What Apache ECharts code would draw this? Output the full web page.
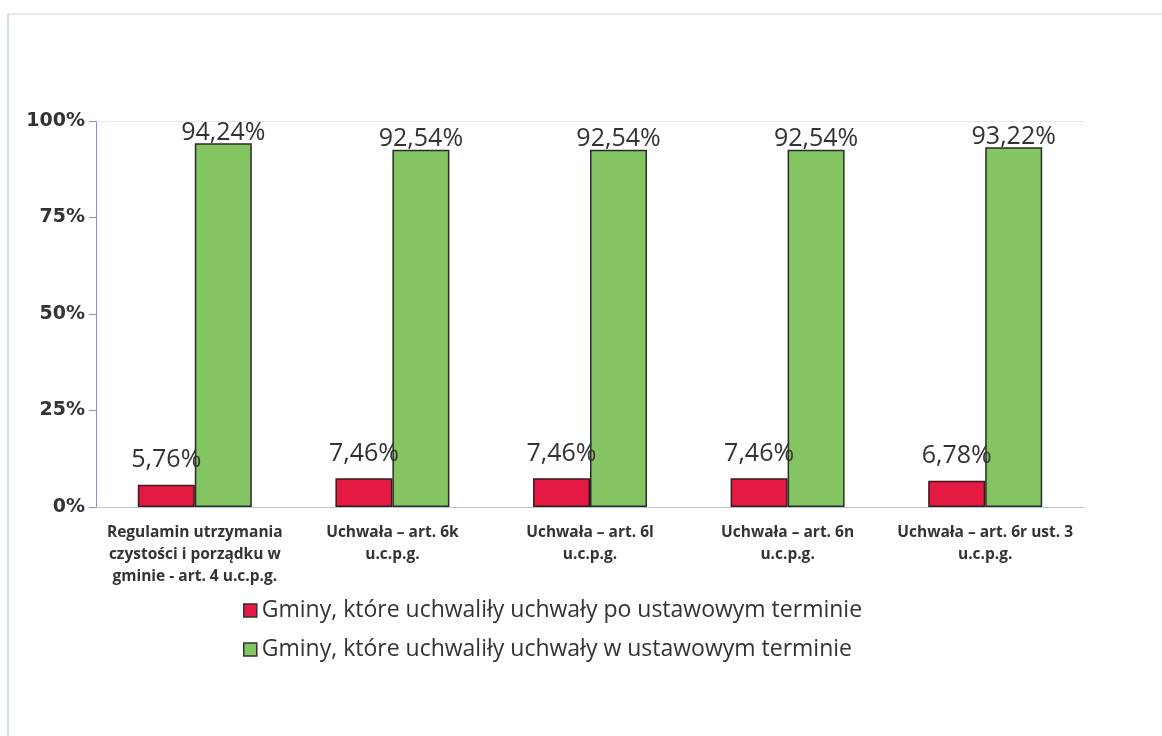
<!DOCTYPE html>
<html>
<head>
<meta charset="utf-8">
<script src="https://cdn.jsdelivr.net/npm/echarts@6/dist/echarts.min.js"></script>
<style>
  html, body { margin: 0; padding: 0; background: #fff; }
  #main { width: 1162px; height: 736px; }
</style>
</head>
<body>
<div id="main"></div>
<script>
  // dane
  const categories = [
    'Regulamin utrzymania\nczystości i porządku w\ngminie - art. 4 u.c.p.g.',
    'Uchwała – art. 6k\nu.c.p.g.',
    'Uchwała – art. 6l\nu.c.p.g.',
    'Uchwała – art. 6n\nu.c.p.g.',
    'Uchwała – art. 6r ust. 3\nu.c.p.g.',
  ];
  const seriesNames = [
    'Gminy, które uchwaliły uchwały po ustawowym terminie',
    'Gminy, które uchwaliły uchwały w ustawowym terminie',
  ];
  const poTerminie = [5.76, 7.46, 7.46, 7.46, 6.78];
  const wTerminie = [94.24, 92.54, 92.54, 92.54, 93.22];
  const yTicks = [0, 25, 50, 75, 100];

  const fmt = v => v.toFixed(2).replace('.', ',') + '%';

  const myChart = echarts.init(document.getElementById('main'));
  myChart.setOption({
    backgroundColor: '#fff',
    animation: false,
    textStyle: { fontFamily: '"Open Sans", "DejaVu Sans", sans-serif' },
    graphic: [
      // ramka
      { type: 'line', shape: { x1: 8, y1: 14, x2: 1162, y2: 14 }, style: { stroke: '#c8d0dc', lineWidth: 1 } },
      { type: 'line', shape: { x1: 8, y1: 14, x2: 8, y2: 736 }, style: { stroke: '#9fc3e0', lineWidth: 1 } },
    ],
    grid: {
      left: 96,
      right: 78,
      top: 121,
      bottom: 229,
    },
    legend: {
      orient: 'vertical',
      left: 238,
      top: 594,
      itemWidth: 13,
      itemHeight: 13,
      itemGap: 16,
      icon: 'rect',
      itemStyle: { borderColor: '#333', borderWidth: 1.5 },
      textStyle: { fontSize: 23, color: '#333', fontFamily: '"Open Sans", sans-serif' },
      data: seriesNames,
    },
    xAxis: {
      type: 'category',
      data: categories,
      axisLine: { lineStyle: { color: '#b8c4d6', width: 1 } },
      axisTick: { show: false },
      axisLabel: {
        interval: 0,
        color: '#333',
        fontWeight: 'bold',
        fontSize: 15.5,
        lineHeight: 22,
        margin: 15,
        fontFamily: '"Open Sans", sans-serif',
      },
    },
    yAxis: {
      type: 'value',
      min: yTicks[0],
      max: yTicks[yTicks.length - 1],
      interval: 25,
      axisLine: { show: true, lineStyle: { color: '#8a8ed0', width: 1 } },
      axisTick: { show: true, inside: false, length: 7, lineStyle: { color: '#8a8ed0' } },
      splitLine: { show: false },
      axisLabel: {
        formatter: '{value}%',
        color: '#333',
        fontWeight: 'bold',
        fontSize: 19,
        margin: 11,
        fontFamily: '"DejaVu Sans", sans-serif',
      },
    },
    series: [
      {
        name: seriesNames[0],
        type: 'bar',
        data: poTerminie,
        barWidth: 57,
        barGap: '0%',
        itemStyle: { color: '#e51a43', borderColor: '#3a1a1a', borderWidth: 1.5 },
        label: {
          show: true,
          position: 'top',
          distance: 12,
          formatter: p => fmt(p.value),
          fontSize: 25,
          color: '#333',
          fontFamily: '"Open Sans", sans-serif',
        },
      },
      {
        name: seriesNames[1],
        type: 'bar',
        data: wTerminie,
        barWidth: 57,
        itemStyle: { color: '#84c461', borderColor: '#2a2a2a', borderWidth: 1.5 },
        label: {
          show: true,
          position: 'top',
          distance: -2,
          formatter: p => fmt(p.value),
          fontSize: 25,
          color: '#333',
          fontFamily: '"Open Sans", sans-serif',
        },
        markLine: {
          silent: true,
          symbol: 'none',
          label: { show: false },
          lineStyle: { color: '#e4e8ee', type: 'solid', width: 1 },
          data: [{ yAxis: 100 }],
        },
      },
    ],
  });
</script>
</body>
</html>
